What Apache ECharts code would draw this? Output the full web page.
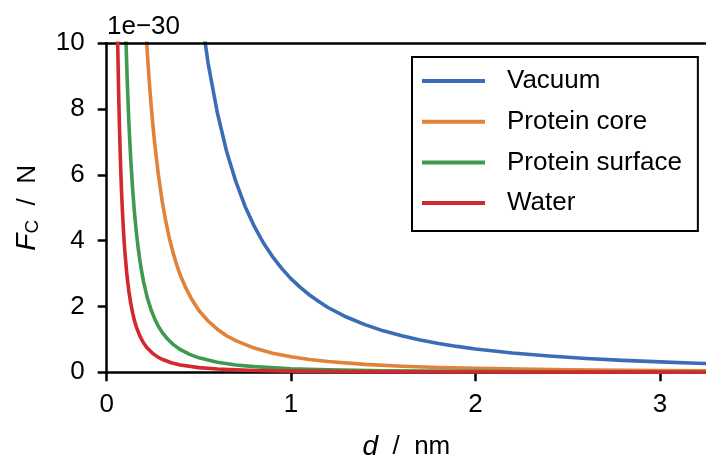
<!DOCTYPE html>
<html><head><meta charset="utf-8">
<script src="https://cdn.jsdelivr.net/npm/echarts@6/dist/echarts.min.js"></script>
<style>html,body{margin:0;padding:0;background:#fff}#c{width:706px;height:459px}</style>
</head><body><div id="c"></div>
<script>
// ---- data (d in nm, F in units of 1e-30 N) ----
const seriesNames = ['Vacuum', 'Protein core', 'Protein surface', 'Water'];
const seriesColors = ['#3b6db5', '#e0823a', '#3f9a4f', '#d3282e'];

const vacuumD = [0.45, 0.5, 0.55, 0.6, 0.65, 0.7, 0.75, 0.8, 0.85, 0.9, 0.95, 1.0, 1.05, 1.1, 1.15, 1.2, 1.3, 1.4, 1.5, 1.6, 1.7, 1.8, 1.9, 2.0, 2.2, 2.4, 2.6, 2.8, 3.0, 3.2, 3.3];
const vacuumF = [14.02, 11.36, 9.39, 7.89, 6.72, 5.80, 5.05, 4.44, 3.93, 3.51, 3.15, 2.84, 2.58, 2.35, 2.15, 1.97, 1.68, 1.45, 1.26, 1.11, 0.983, 0.877, 0.787, 0.71, 0.587, 0.493, 0.420, 0.362, 0.316, 0.277, 0.261];

const coreD = [0.19, 0.2, 0.21, 0.22, 0.23, 0.24, 0.25, 0.26, 0.28, 0.3, 0.32, 0.34, 0.36, 0.38, 0.4, 0.43, 0.46, 0.5, 0.55, 0.6, 0.65, 0.7, 0.8, 0.9, 1.0, 1.1, 1.2, 1.4, 1.6, 1.8, 2.0, 2.5, 3.0, 3.3];
const coreF = [13.05, 11.78, 10.68, 9.73, 8.90, 8.18, 7.54, 6.97, 6.01, 5.23, 4.60, 4.07, 3.63, 3.26, 2.94, 2.55, 2.23, 1.88, 1.56, 1.31, 1.11, 0.961, 0.736, 0.581, 0.471, 0.389, 0.327, 0.240, 0.184, 0.145, 0.118, 0.075, 0.052, 0.043];

const surfaceD = [0.095, 0.1, 0.105, 0.11, 0.115, 0.12, 0.125, 0.13, 0.14, 0.15, 0.16, 0.17, 0.18, 0.19, 0.2, 0.22, 0.24, 0.26, 0.28, 0.3, 0.33, 0.36, 0.4, 0.45, 0.5, 0.6, 0.7, 0.8, 1.0, 1.2, 1.5, 2.0, 2.5, 3.0, 3.3];
const surfaceF = [12.19, 11.0, 9.98, 9.09, 8.32, 7.64, 7.04, 6.51, 5.61, 4.89, 4.30, 3.81, 3.40, 3.05, 2.75, 2.27, 1.91, 1.63, 1.40, 1.22, 1.01, 0.849, 0.688, 0.543, 0.44, 0.306, 0.224, 0.172, 0.110, 0.076, 0.049, 0.0275, 0.0176, 0.0122, 0.0101];

const waterD = [0.055, 0.06, 0.065, 0.07, 0.075, 0.08, 0.085, 0.09, 0.095, 0.1, 0.11, 0.12, 0.13, 0.14, 0.15, 0.16, 0.18, 0.2, 0.22, 0.25, 0.28, 0.3, 0.35, 0.4, 0.5, 0.6, 0.7, 0.8, 1.0, 1.5, 2.0, 3.0, 3.3];
const waterF = [11.77, 9.89, 8.43, 7.27, 6.33, 5.56, 4.93, 4.40, 3.94, 3.56, 2.94, 2.47, 2.11, 1.82, 1.58, 1.39, 1.10, 0.89, 0.736, 0.57, 0.454, 0.396, 0.291, 0.223, 0.142, 0.099, 0.073, 0.056, 0.036, 0.016, 0.0089, 0.004, 0.0033];

const xTicks = [0, 1, 2, 3];
const yTicks = [0, 2, 4, 6, 8, 10];
const yScaleLabel = '1e\u221230';

// ---- chart ----
const allD = [vacuumD, coreD, surfaceD, waterD];
const allF = [vacuumF, coreF, surfaceF, waterF];
const FONT = 'Liberation Sans';
const chart = echarts.init(document.getElementById('c'), null, {renderer: 'canvas'});

const axisStyle = {lineStyle: {color: '#000', width: 2.5}};
chart.setOption({
  animation: false,
  backgroundColor: '#fff',
  textStyle: {fontFamily: FONT},
  title: {
    text: yScaleLabel, left: 107, top: 14, padding: 0,
    textStyle: {fontFamily: FONT, fontSize: 26, fontWeight: 'normal', color: '#000'}
  },
  grid: {left: 106.7, top: 43.3, right: 0, bottom: 86.7, containLabel: false, outerBoundsMode: 'none'},
  legend: {
    data: seriesNames, orient: 'vertical', left: 412, top: 57,
    padding: [11, 16, 15, 10], itemGap: 14.7, itemWidth: 63, itemHeight: 4,
    icon: 'rect', borderColor: '#000', borderWidth: 2, borderRadius: 0,
    backgroundColor: '#fff',
    textStyle: {fontFamily: FONT, fontSize: 26, color: '#000', lineHeight: 26, padding: [0, 0, 0, 17]}
  },
  xAxis: [{
    type: 'value', min: xTicks[0], max: 3.25, interval: 1, position: 'bottom',
    axisLine: axisStyle, z: 5,
    axisTick: {show: true, length: 9, customValues: xTicks, lineStyle: {width: 2.5, color: '#000'}},
    axisLabel: {fontFamily: FONT, fontSize: 26, color: '#000', margin: 20, customValues: xTicks},
    splitLine: {show: false},
    name: '{i|d}{n|  /  nm}', nameLocation: 'middle', nameGap: 61,
    nameTextStyle: {rich: {
      i: {fontFamily: FONT, fontSize: 28, fontStyle: 'italic', color: '#000'},
      n: {fontFamily: FONT, fontSize: 26, color: '#000'}
    }}
  }, {
    type: 'value', min: xTicks[0], max: 3.25, position: 'top',
    axisLine: axisStyle, axisTick: {show: false}, axisLabel: {show: false}, splitLine: {show: false}, z: 5
  }],
  yAxis: {
    type: 'value', min: yTicks[0], max: yTicks[yTicks.length - 1], interval: 2,
    axisLine: axisStyle, z: 5,
    axisTick: {show: true, length: 9, customValues: yTicks, lineStyle: {width: 2.5, color: '#000'}},
    axisLabel: {fontFamily: FONT, fontSize: 26, color: '#000', margin: 22, customValues: yTicks},
    splitLine: {show: false},
    name: '{i|F}{s|C}{n|  /  N}', nameLocation: 'middle', nameGap: 64,
    nameTextStyle: {rich: {
      i: {fontFamily: FONT, fontSize: 28, fontStyle: 'italic', color: '#000', lineHeight: 30},
      s: {fontFamily: FONT, fontSize: 19, color: '#000', verticalAlign: 'bottom', lineHeight: 19},
      n: {fontFamily: FONT, fontSize: 26, color: '#000', lineHeight: 30}
    }}
  },
  series: seriesNames.map((name, k) => ({
    name, type: 'line', xAxisIndex: 0,
    data: allD[k].map((d, i) => [d, allF[k][i]]),
    showSymbol: false, symbol: 'none', smooth: false, clip: true,
    lineStyle: {color: seriesColors[k], width: 3.6, join: 'round'},
    itemStyle: {color: seriesColors[k]},
    z: 2 + k
  }))
});
</script></body></html>
